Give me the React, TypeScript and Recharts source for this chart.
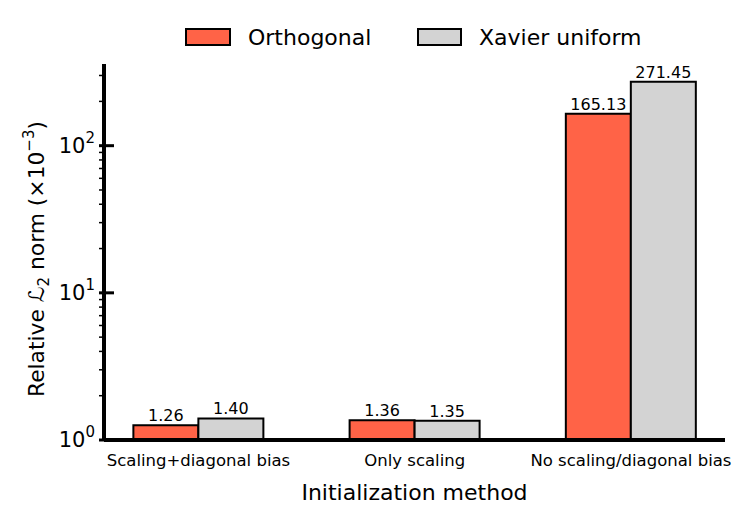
import React from 'react';
import { BarChart, Bar, XAxis, YAxis, LabelList } from 'recharts';

const categories = ['Scaling+diagonal bias', 'Only scaling', 'No scaling/diagonal bias'];
const orthogonal = [1.26, 1.36, 165.13];
const xavier = [1.40, 1.35, 271.45];
const majorTicks = [1, 10, 100];
const minorTicks = [2, 3, 4, 5, 6, 7, 8, 9, 20, 30, 40, 50, 60, 70, 80, 90, 200, 300];

const data = categories.map((name, i) => ({
  x: i,
  name,
  orthogonal: orthogonal[i],
  xavier: xavier[i],
}));

const FONT = 'DejaVu Sans, sans-serif';
const ORANGE = '#FF6347';
const GRAY = '#D3D3D3';

const YTick = ({ x, y, payload }: any) => {
  const v = payload.value;
  const isMajor = majorTicks.includes(v);
  if (!isMajor) {
    return <line x1={x - 5} x2={x} y1={y} y2={y} stroke="#000" strokeWidth={1.5} />;
  }
  const exp = Math.round(Math.log10(v));
  return (
    <g>
      <line x1={x - 5} x2={x + 10} y1={y} y2={y} stroke="#000" strokeWidth={3} />
      <text x={x - 9} y={y + 7} textAnchor="end" fontSize={21} fontFamily={FONT} fill="#000">
        10<tspan dy={-10} fontSize={15}>{exp}</tspan>
      </text>
    </g>
  );
};

const XTick = ({ x, y, payload }: any) => (
  <text x={x} y={y + 18} textAnchor="middle" fontSize={16.5} fontFamily={FONT} fill="#000">
    {categories[payload.value]}
  </text>
);

// y label drawn at fixed spot (ignores the props Recharts passes in)
const YLabel = () => (
  <text
    x={44}
    y={259}
    transform="rotate(-90 44 259)"
    textAnchor="middle"
    fontSize={21.8}
    fontFamily={FONT}
    fill="#000"
  >
    Relative ℒ<tspan dy={5} fontSize={15}>2</tspan>
    <tspan dy={-5}> norm (×10</tspan>
    <tspan dy={-10} fontSize={15}>−3</tspan>
    <tspan dy={10}>)</tspan>
  </text>
);

const LegendBox = () => (
  <svg width={752} height={60} style={{ position: 'absolute', left: 0, top: 0 }}>
    <rect x={186} y={29} width={44} height={16} fill={ORANGE} stroke="#000" strokeWidth={2} />
    <text x={248} y={45} fontSize={22} fontFamily={FONT} fill="#000">Orthogonal</text>
    <rect x={418} y={29} width={43} height={16} fill={GRAY} stroke="#000" strokeWidth={2} />
    <text x={479} y={45} fontSize={22} fontFamily={FONT} fill="#000">Xavier uniform</text>
  </svg>
);

export default function App() {
  return (
    <div style={{ position: 'absolute', left: 0, top: 0, width: 752, height: 521, background: '#fff' }}>
      <LegendBox />
      <BarChart
        width={752}
        height={521}
        data={data}
        margin={{ top: 64, right: 27, left: 0, bottom: 0 }}
        barGap={0}
        style={{ position: 'absolute', left: 0, top: 0 }}
      >
        <XAxis
          dataKey="x"
          type="number"
          domain={[-0.437, 2.435]}
          ticks={[0, 1, 2]}
          allowDataOverflow
          height={81}
          tickLine={false}
          axisLine={{ stroke: '#000', strokeWidth: 4 }}
          tick={<XTick />}
          label={{ value: 'Initialization method', position: 'insideBottom', offset: 21, fontSize: 22, fontFamily: FONT, fill: '#000' }}
        />
        <YAxis
          scale="log"
          domain={[1, 359]}
          allowDataOverflow
          ticks={[...majorTicks, ...minorTicks].sort((a, b) => a - b)}
          interval={0}
          width={104}
          tickSize={0}
          tickMargin={0}
          tickLine={false}
          axisLine={{ stroke: '#000', strokeWidth: 4 }}
          tick={<YTick />}
          label={() => <YLabel />}
        />
        <Bar dataKey="orthogonal" fill={ORANGE} stroke="#000" strokeWidth={2} barSize={65} isAnimationActive={false}>
          <LabelList dataKey="orthogonal" position="top" offset={4} fontSize={16} fontFamily={FONT} fill="#000" formatter={(v: any) => Number(v).toFixed(2)} />
        </Bar>
        <Bar dataKey="xavier" fill={GRAY} stroke="#000" strokeWidth={2} barSize={65} isAnimationActive={false}>
          <LabelList dataKey="xavier" position="top" offset={4} fontSize={16} fontFamily={FONT} fill="#000" formatter={(v: any) => Number(v).toFixed(2)} />
        </Bar>
      </BarChart>
    </div>
  );
}
